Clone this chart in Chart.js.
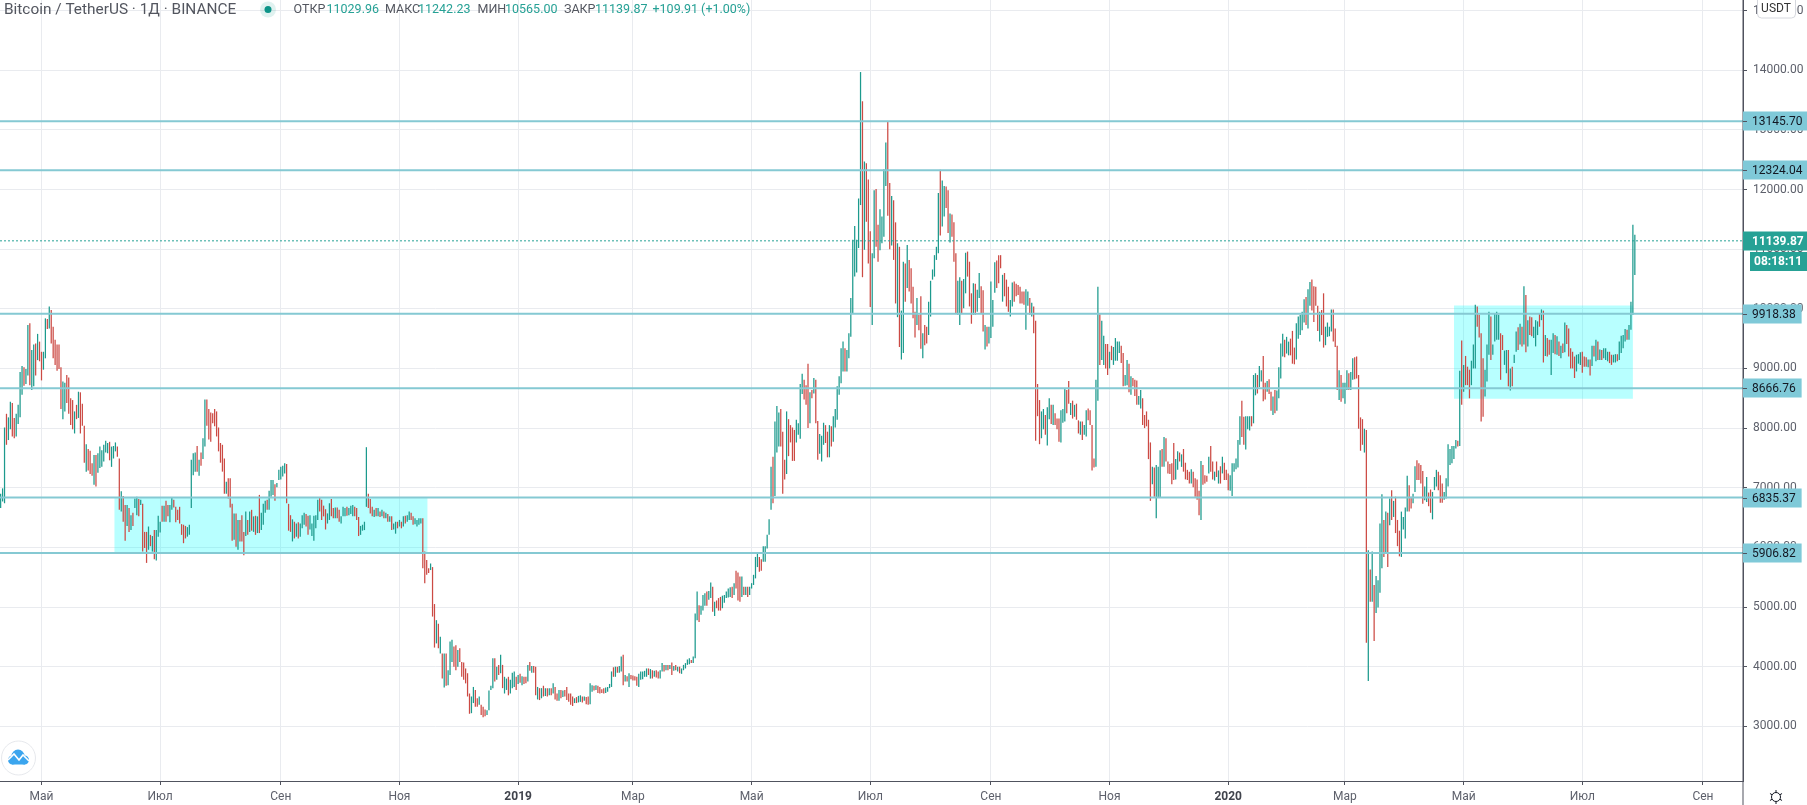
<!DOCTYPE html>
<html><head><meta charset="utf-8"><title>Bitcoin / TetherUS</title>
<style>html,body{margin:0;padding:0;background:#fff;overflow:hidden}canvas{display:block}</style>
<script src="https://cdn.jsdelivr.net/npm/chart.js@4/dist/chart.umd.min.js"></script></head>
<body><canvas id="c" width="1807" height="805"></canvas>
<script>
// Day numbers count from 1 May 2018; the first bar is 21 days earlier.
const firstDay = -21;
const highs = [
6900,6990,8010,8240,8180,8440,8420,8170,8240,8390,8940,9040,9020,8990,9730,9760,9310,9400,9420,9580,
9450,9280,9280,9840,9830,10040,9980,9700,9480,9400,9400,9020,8780,8760,8890,8850,8500,8470,8280,8390,
8610,8600,8410,8040,7730,7650,7620,7410,7550,7550,7580,7690,7630,7720,7790,7750,7770,7690,7700,7760,
7690,7490,6940,6860,6710,6710,6660,6540,6580,6820,6850,6810,6800,6730,6260,6260,6350,6210,6190,6290,
6290,6530,6430,6700,6700,6780,6710,6710,6840,6800,6680,6630,6680,6390,6380,6360,6340,6380,7470,7580,
7590,7700,7470,7590,7830,8480,8480,8320,8260,8250,8320,8280,8010,7750,7720,7490,7100,7160,7160,6730,
6570,6570,6460,6460,6540,6260,6600,6460,6600,6630,6520,6530,6520,6880,6580,6730,6780,6800,6950,7130,
7130,7060,7080,7300,7350,7370,7410,7400,6730,6540,6470,6430,6400,6420,6400,6540,6580,6560,6530,6540,
6400,6530,6540,6800,6840,6800,6700,6640,6570,6740,6810,6660,6670,6670,6630,6520,6680,6660,6680,6660,
6700,6710,6680,6660,6510,6360,6380,6430,7680,6900,6810,6680,6630,6660,6660,6600,6630,6600,6580,6560,
6520,6520,6400,6430,6430,6460,6430,6520,6530,6540,6600,6580,6520,6490,6460,6490,6490,6490,5930,5790,5650,
5730,5670,5050,4780,4720,4500,4220,4220,4220,3940,4420,4450,4340,4360,4280,4310,4080,4070,3970,3890,
3550,3500,3660,3610,3470,3500,3360,3330,3280,3270,3600,3680,4140,4140,4000,4030,4200,4030,3830,3800,
3830,3780,3900,3920,3830,3860,3880,3840,3830,3830,4030,4080,4010,4010,4000,3660,3640,3640,3680,3640,
3640,3640,3640,3720,3660,3550,3610,3610,3600,3610,3660,3550,3550,3500,3470,3490,3510,3520,3500,3500,
3490,3500,3720,3690,3680,3690,3680,3660,3620,3640,3650,3660,3710,3920,3990,4000,4000,4010,4170,4200,
3860,3840,3890,3860,3850,3840,3830,3880,3920,3920,3930,3970,3970,3960,3940,3930,3940,3920,3940,4060,
4030,4030,4030,4030,4070,4010,4030,4000,4000,3970,4030,4060,4120,4140,4110,4170,4890,5260,5030,5020,
5200,5230,5260,5270,5410,5340,5090,5110,5150,5170,5190,5200,5260,5310,5330,5340,5400,5610,5580,5510,
5510,5340,5340,5340,5340,5400,5540,5840,5900,5840,5800,6020,6020,6210,6470,7350,7520,8110,8370,8260,
8320,7940,7470,8280,8150,8050,8010,7970,8140,8080,8740,8910,8810,8720,9080,8600,8640,8840,8810,8120,
7900,7870,8090,8050,7940,8050,8030,8200,8320,8700,8870,9340,9450,9340,9310,9590,10180,11160,11390,11160,
11850,13970,13480,12470,12440,12170,11300,10930,11990,12010,11410,11670,11550,12340,12790,13150,12110,11890,11820,11450,
11100,11040,9970,10790,10760,11070,10820,10680,10370,9950,10180,9900,10210,9590,9730,9700,10120,10470,10660,10900,
11040,11940,12330,12150,12060,12050,11990,11600,11580,11450,10930,10470,10530,10470,10500,10940,10960,10790,10260,10430,
10420,10320,10600,10380,10310,9730,9700,9700,10460,10150,10780,10810,10900,10900,10570,10600,10490,10370,10150,10440,
10460,10420,10400,10370,10290,10290,10330,10290,10180,10100,10040,9800,8740,8470,8280,8320,8220,8350,8500,8390,
8390,8250,8160,8160,8300,8320,8670,8640,8790,8420,8460,8390,8410,8130,8110,8110,8050,8300,8330,8300,
8050,7490,8810,10370,9910,9800,9550,9410,9410,9280,9380,9360,9510,9450,9450,9380,9260,8890,9140,9080,
8870,8840,8810,8800,8540,8640,8500,8220,8280,8140,7760,7350,7340,7380,7350,7630,7650,7850,7830,7440,
7400,7410,7750,7480,7610,7590,7560,7650,7420,7300,7270,7310,7270,7160,7140,6950,7450,7380,7210,7200,
7520,7700,7440,7270,7440,7290,7360,7520,7420,7300,7240,7210,7410,7410,7490,7800,8200,8460,8190,8200,
8200,8200,8200,8890,8920,8890,9040,8970,9210,8760,8790,8820,8610,8530,8640,8630,9020,9420,9580,9480,
9530,9450,9500,9630,9350,9760,9870,9900,9950,10160,10200,10330,10450,10490,10380,10370,10050,9950,9980,10260,
9700,9770,9700,9990,9990,9670,9380,8970,8890,8760,8760,8970,8920,8940,9170,9190,9200,8890,8180,8150,
7990,7970,5950,5630,5930,5370,5520,5450,6400,6890,6460,6600,6580,6820,6960,6780,6850,6460,6280,6600,
6510,6670,7200,7040,6850,6900,7360,7460,7410,7380,7280,7020,7180,6920,6970,6930,7180,7300,7270,7210,
7070,6930,7160,7730,7650,7700,7700,7800,7790,8960,9470,9060,9210,9030,8980,9130,9400,10070,10040,9900,
9590,9170,8980,9400,9950,9870,9400,9920,9950,9900,9590,9560,9300,9310,9310,9000,9030,9230,9620,9690,
9750,9700,10380,10230,9810,9870,9860,9700,9810,9790,9930,9990,9970,9560,9510,9480,9480,9590,9560,9540,
9450,9380,9420,9770,9730,9670,9340,9280,9200,9230,9240,9270,9280,9200,9190,9150,9150,9380,9380,9480,
9450,9320,9310,9340,9340,9280,9280,9230,9230,9240,9240,9450,9550,9560,9660,9650,9730,10120,11410,11242.23
];
const lows = [
6660,6770,6740,7720,7800,7980,7860,7830,7860,8070,8180,8560,8710,8740,8880,8720,8640,8700,8880,9140,
9120,8800,8980,9170,9660,9670,9420,9170,9060,8960,8990,8320,8150,8280,8420,8240,8050,7980,7910,8150,
8170,7910,8040,7420,7270,7290,7230,7200,7050,7020,7250,7330,7350,7440,7590,7580,7460,7350,7490,7610,
7520,6630,6600,6430,6110,6360,6260,6290,6360,6660,6540,6520,6710,5930,5990,5740,5960,6020,5930,5800,
5780,6180,6250,6430,6430,6430,6520,6420,6630,6670,6420,6460,6400,6210,6070,6150,6180,6210,6660,7210,
7270,7270,7200,7370,7480,7690,8040,7810,7770,8080,8030,7860,7610,7420,7270,6900,6900,6820,6670,6110,
6130,6010,5960,6100,6100,5870,6190,6210,6260,6280,6260,6210,6240,6240,6290,6380,6580,6630,6630,6850,
6880,6780,7010,7130,7140,7190,7240,6740,6280,6260,6100,6150,6180,6150,6180,6320,6380,6350,6210,6300,
6190,6110,6320,6460,6600,6460,6520,6300,6400,6460,6520,6490,6490,6490,6430,6400,6520,6520,6530,6540,
6560,6520,6520,6460,6190,6210,6280,6290,6680,6660,6570,6520,6510,6520,6520,6510,6520,6490,6490,6430,
6430,6290,6300,6230,6320,6350,6320,6350,6400,6430,6460,6460,6380,6390,6350,6380,6400,5650,5400,5540,5570,
5620,4840,4320,4390,4310,4220,3800,3650,3680,3690,3860,4080,4000,3940,4000,4080,3830,3780,3720,3500,
3210,3220,3390,3330,3330,3360,3190,3150,3170,3190,3270,3610,3640,3750,3780,3860,3890,3640,3550,3610,
3520,3550,3640,3660,3610,3710,3730,3690,3710,3720,3750,3930,3900,3900,3520,3450,3440,3470,3500,3510,
3500,3520,3520,3550,3450,3430,3430,3470,3490,3500,3440,3410,3360,3340,3390,3390,3400,3410,3400,3430,
3370,3360,3370,3580,3600,3610,3560,3550,3560,3550,3560,3580,3640,3660,3830,3830,3900,3900,3920,3690,
3750,3750,3660,3790,3770,3770,3680,3660,3780,3790,3830,3830,3860,3800,3800,3830,3820,3800,3800,3920,
3920,3940,3940,3960,3860,3930,3940,3920,3890,3880,3940,3970,4030,4040,4060,4060,4140,4780,4750,4870,
4940,5020,5020,5120,5150,4920,4850,4980,4940,4940,4980,5070,5150,5160,5170,5150,5200,5310,5110,5090,
5170,5200,5200,5170,5200,5310,5370,5480,5670,5590,5610,5760,5760,5980,6210,6630,6740,6860,7590,7690,
7690,6900,7140,7230,7530,7760,7450,7450,7760,7890,7820,8570,8480,8390,8000,8080,8500,8580,8080,7470,
7570,7440,7720,7750,7510,7510,7690,7770,8010,8140,8560,8750,8950,8950,8950,9170,9530,9930,10540,10610,
11020,11740,10530,10990,11460,10760,10030,9730,10850,11040,10790,10980,11100,11210,12060,11560,11000,11060,10820,10090,
9860,9360,9150,9260,10120,10350,10290,10090,9840,9520,9730,9640,9330,9170,9390,9420,9560,9870,10490,10540,
10820,10930,11230,11380,11550,11690,11270,11110,11210,10790,9930,9900,9730,9930,10010,10260,10540,10040,9750,9900,
9900,9950,10180,9930,9620,9320,9370,9420,9510,9700,10270,10350,10430,10680,10120,10210,10040,9950,9870,10040,
10120,10210,10230,10090,10090,10070,9650,10050,9900,9870,9590,7790,8200,7730,7830,7980,7890,7710,8150,8070,
8050,8050,7980,7770,7760,8090,8110,8250,8410,8220,8160,8190,8140,7910,7890,7800,7890,7860,8130,8050,
7290,7340,7350,8460,9060,9140,9060,9000,8890,9000,9140,9060,9130,9130,9260,9090,8700,8710,8720,8600,
8560,8700,8540,8390,8390,8330,8050,8000,8030,7480,6780,7060,6850,6490,6840,6840,7350,7350,7440,7240,
7230,7060,7130,7140,7300,7440,7350,7270,7140,7130,7070,7070,7010,6850,6800,6540,6460,7050,7070,7100,
7240,7270,7140,7120,7180,7070,7070,7240,7130,7130,6960,6950,6860,7270,7310,7340,7720,7850,7720,7640,
7980,7960,8030,8080,8550,8580,8690,8780,8450,8480,8610,8570,8290,8220,8250,8290,8500,8830,9200,9190,
9250,9220,9220,9080,9070,9150,9500,9560,9640,9770,9730,9670,10050,9970,9780,10050,9630,9450,9560,9350,
9390,9530,9540,9620,9450,9360,8640,8470,8440,8500,8410,8640,8640,8640,8810,8820,8830,7990,7620,7720,
7590,4400,3760,5090,5090,4430,4900,4990,5240,5650,5840,5900,5670,6370,6460,6510,6240,6020,5850,5840,
6300,6150,6600,6600,6650,6740,6930,7130,7130,7070,6730,6790,6760,6690,6580,6470,6960,7020,6960,6750,
6750,6800,6820,7020,7380,7410,7480,7660,7690,7700,8390,8610,8720,8720,8500,8720,9000,9000,9700,9520,
8110,8190,8530,8780,9230,9140,9230,9450,9480,9480,8810,9310,9060,8920,8700,8630,8700,9090,9280,9310,
9400,9370,9400,9270,9370,9560,9540,9510,9370,9560,9700,9810,9100,9210,9200,9230,8890,9260,9240,9230,
9210,9170,9260,9270,9410,9200,9000,9000,8840,8950,9080,9060,8930,9030,9030,9020,8880,9040,9200,9120,
9140,9140,9140,9170,9140,9120,9090,9060,9100,9100,9120,9140,9260,9340,9450,9480,9480,9650,9900,10565
];
// u = the day closed up, d = the day closed down
const moves = [
"uuud"+"uudd"+"uuuu"+"duud"+"uudu","dduu"+"dudd"+"dddd"+"uudd"+"ddud","uddd"+"uddd"+"uduu"+"uuuu"+"duuu","ddud"+"dudu"+"duud"+"uddd"+"udud",
"uuud"+"uddu"+"uddd"+"dddd"+"uuuu","udud"+"uudd"+"dddd"+"dddd"+"uddd","udud"+"ddud"+"udud"+"uduu"+"uduu",
"uduu"+"uuud"+"ddud"+"uduu"+"uddu","uuuu"+"dddd"+"uudd"+"uddu"+"uudu","uudd"+"duuu"+"uddd"+"udud"+"udud",
"uduu"+"dudu"+"duud"+"duuu"+"udddd","uddu"+"dudu"+"duuu"+"ddud"+"dddd","duud"+"dudd"+"duuu"+"udud"+"uduu",
"duuu"+"dudu"+"ddud"+"uddu"+"dudu","dudu"+"ddud"+"uddd"+"ddud"+"uudu","dduu"+"dudd"+"dduu"+"uudu"+"duud",
"udud"+"dddu"+"uuuu"+"dudu"+"dduu","dudu"+"dudu"+"duuu"+"uudu"+"uudu","uudu"+"udud"+"dduu"+"uuud"+"uddd",
"udud"+"uuuu"+"uddu"+"uuuu"+"duuu","dddu"+"dddd"+"uuuu"+"dddu"+"dudd","uuud"+"dudu"+"uuuu"+"uduu"+"uuuu",
"uudu"+"dddu"+"uddu"+"uuud"+"dudd","uduu"+"dudd"+"ddud"+"dudd"+"uuuu","uudu"+"uddu"+"dddu"+"uduu"+"dddu",
"duud"+"dudu"+"uuud"+"ddud"+"dduu","dddd"+"dduu"+"dudd"+"dduu"+"duud","uddd"+"uuud"+"dudu"+"ddud"+"uudd",
"dduu"+"duud"+"dudu"+"uuud"+"duud","uddd"+"uudd"+"dddu"+"duuu"+"dudd","dddu"+"udud"+"dddu"+"dddd"+"uddd",
"uddu"+"dudu"+"dddu"+"uuuu"+"uddu","uudu"+"uduu"+"ddud"+"dudu"+"uuud","uudd"+"duuu"+"uudu"+"uddd"+"dudd",
"uuuu"+"dddu"+"duuu"+"duud"+"dddd","udud"+"uduu"+"uudu"+"dudu"+"dddu","uuud"+"duud"+"dddu"+"uddu"+"uudd",
"duuu"+"uuuu"+"dudu"+"dddu"+"uudd","dduu"+"uduu"+"uudd"+"uudu"+"duud","udud"+"uddu"+"uudu"+"dudd"+"uudu",
"dudu"+"dddd"+"duuu"+"dddu"+"dudu","dudu"+"uudd"+"uudu"+"uuud"+"uuuu"
].join("");
const levels = [13145.70, 12324.04, 9918.38, 8666.76, 6835.37, 5906.82];
const zones = [
  {from: 37.4, to: 198.5, high: 6835.37, low: 5906.82},
  {from: 726, to: 818, high: 10055, low: 8494}
];
const lastPrice = 11139.87;
const countdown = "08:18:11";
const priceTicks = [3000,4000,5000,6000,7000,8000,9000,10000,11000,12000,13000,14000,15000];
const monthTicks = [0,61,123,184,245,304,365,426,488,549,610,670,731,792,854];
const monthLabels = ["Май","Июл","Сен","Ноя","2019","Мар","Май","Июл","Сен","Ноя","2020","Мар","Май","Июл","Сен"];
const headerTitle = "Bitcoin / TetherUS · 1Д · BINANCE";
const headerStats = [["ОТКР","11029.96"],["МАКС","11242.23"],["МИН","10565.00"],["ЗАКР","11139.87"]];
const headerChange = "+109.91 (+1.00%)";
const quote = "USDT";

const UP = "#1c9a8d", DOWN = "#cc4a44", LEVEL = "#85c9d3", TAG = "#7fc9d8", GRID = "#e9ebef", AXIS = "#50535e", TEXT = "#5d606b", GREENTXT = "#26a195";
const FONT = "Roboto, 'Liberation Sans', sans-serif";
const xMin = -21.33, xMax = 874.6, yMin = 2083, yMax = 15178;

const barData = highs.map((h, i) => ({x: firstDay + i, y: [lows[i], h]}));
const barColors = highs.map((h, i) => moves[i] === "u" ? UP : DOWN);

const datasets = [];
zones.forEach(z => datasets.push({
  type: "line", order: 5,
  data: [{x: z.from, y: z.high}, {x: z.to, y: z.high}],
  borderWidth: 0, pointRadius: 0, fill: {value: z.low}, backgroundColor: "rgba(0,255,255,0.28)"
}));
datasets.push({
  type: "bar", order: 3, data: barData, backgroundColor: barColors,
  barThickness: 1.25, inflateAmount: 0, borderWidth: 0, grouped: false
});
levels.forEach(v => datasets.push({
  type: "line", order: 1,
  data: [{x: xMin, y: v}, {x: xMax, y: v}],
  borderColor: LEVEL, borderWidth: 2, pointRadius: 0, fill: false
}));
datasets.push({
  type: "line", order: 2,
  data: [{x: xMin, y: lastPrice}, {x: xMax, y: lastPrice}],
  borderColor: GREENTXT, borderWidth: 1, borderDash: [2, 2], pointRadius: 0, fill: false
});

const overlay = {
  id: "overlay",
  afterDraw(chart) {
    const c = chart.ctx, ys = chart.scales.y, area = chart.chartArea;
    c.save();
    c.fillStyle = AXIS;
    c.fillRect(area.right - 0.5, 0, 1, 805);
    c.textBaseline = "middle"; c.textAlign = "left";
    levels.forEach(v => {
      const y = Math.round(ys.getPixelForValue(v)), label = v.toFixed(2);
      c.font = "12px " + FONT;
      const w = c.measureText(label).width;
      c.fillStyle = TAG; c.fillRect(area.right, y - 9.5, w + 15, 19);
      c.fillStyle = AXIS; c.fillRect(area.right, y, 4, 1);
      c.fillStyle = "#131722"; c.fillText(label, area.right + 9, y + 1);
    });
    const ly = Math.round(ys.getPixelForValue(lastPrice));
    c.fillStyle = GREENTXT; c.fillRect(area.right, ly - 9.5, 64, 19);
    c.fillRect(area.right + 7, ly + 11, 57, 19);
    c.fillStyle = "#fff"; c.font = "bold 12px " + FONT;
    c.fillText(lastPrice.toFixed(2), area.right + 9, ly + 1);
    c.fillText(countdown, area.right + 11, ly + 21);
    c.fillStyle = "#fff"; c.strokeStyle = "#d6d8de"; c.lineWidth = 1;
    c.beginPath(); c.roundRect(1757.5, -4, 38, 22, 4); c.fill(); c.stroke();
    c.fillStyle = "#333"; c.font = "12px " + FONT; c.textAlign = "center";
    c.fillText(quote, 1776, 9);
    c.textAlign = "left"; c.font = "15.4px " + FONT; c.fillStyle = "#53565f";
    c.fillText(headerTitle, 4, 10);
    c.fillStyle = "rgba(38,161,149,0.14)"; c.beginPath(); c.arc(268, 9.5, 8, 0, 7); c.fill();
    c.fillStyle = "#0d9488"; c.beginPath(); c.arc(268, 9.5, 3.5, 0, 7); c.fill();
    c.font = "12.5px " + FONT;
    const lx = [293.5, 385, 477.5, 564], vx = [326.5, 418, 505, 595];
    headerStats.forEach((s, i) => {
      c.fillStyle = "#53565f"; c.fillText(s[0], lx[i], 10);
      c.fillStyle = GREENTXT; c.fillText(s[1], vx[i], 10);
    });
    c.fillText(headerChange, 652.5, 10);
    c.strokeStyle = "#e6e8ec"; c.fillStyle = "#fff";
    c.beginPath(); c.arc(18.5, 758, 17, 0, 7); c.fill(); c.stroke();
    c.fillStyle = "#3ba5ee";
    c.beginPath(); c.arc(12.5, 760, 4.5, 0, 7); c.arc(18, 756, 6.5, 0, 7); c.arc(24.5, 760, 4.5, 0, 7); c.fill();
    c.fillRect(12, 758, 13, 6.5);
    c.strokeStyle = "#fff"; c.lineWidth = 1.6;
    c.beginPath(); c.moveTo(8, 760); c.lineTo(14, 754); c.lineTo(19, 760); c.lineTo(23, 755); c.lineTo(29, 761); c.stroke();
    c.strokeStyle = "#131722"; c.lineWidth = 1;
    c.beginPath(); c.arc(1776, 797, 4.5, 0, 7); c.stroke();
    for (let a = 0; a < 6; a++) {
      const t = a * Math.PI / 3 + Math.PI / 6;
      c.beginPath(); c.moveTo(1776 + 4.5 * Math.cos(t), 797 + 4.5 * Math.sin(t));
      c.lineTo(1776 + 7 * Math.cos(t), 797 + 7 * Math.sin(t)); c.stroke();
    }
    c.restore();
  }
};

new Chart(document.getElementById("c"), {
  type: "bar",
  data: {datasets},
  plugins: [overlay],
  options: {
    responsive: false, animation: false, devicePixelRatio: 1,
    layout: {padding: 0, autoPadding: false},
    plugins: {legend: {display: false}, tooltip: {enabled: false}, title: {display: false}},
    scales: {
      x: {
        type: "linear", min: xMin, max: xMax, offset: false, position: "bottom",
        grid: {offset: false, color: GRID, tickColor: AXIS, tickLength: 4, lineWidth: 1},
        border: {color: AXIS, width: 1},
        afterBuildTicks: s => { s.ticks = monthTicks.map(v => ({value: v})); },
        afterFit: s => { s.height = 24; s.paddingLeft = 0; s.paddingRight = 0; s.paddingTop = 0; s.paddingBottom = 0; },
        ticks: {
          autoSkip: false, maxRotation: 0, minRotation: 0, padding: 5,
          color: ctx => /^\d/.test(monthLabels[ctx.index] || "") ? "#40434c" : TEXT,
          font: ctx => ({family: FONT, size: 12, weight: /^\d/.test(monthLabels[ctx.index] || "") ? "bold" : "normal"}),
          callback: (v) => monthLabels[monthTicks.indexOf(v)]
        }
      },
      y: {
        type: "linear", min: yMin, max: yMax, position: "right",
        grid: {color: GRID, tickColor: AXIS, tickLength: 4, lineWidth: 1},
        border: {color: AXIS, width: 1},
        afterBuildTicks: s => { s.ticks = priceTicks.map(v => ({value: v})); },
        afterFit: s => { s.width = 64; s.paddingLeft = 0; s.paddingRight = 0; s.paddingTop = 0; s.paddingBottom = 0; },
        ticks: {autoSkip: false, padding: 6, color: TEXT, font: {family: FONT, size: 12}, callback: v => Number(v).toFixed(2)}
      }
    }
  }
});
</script>
</body></html>
